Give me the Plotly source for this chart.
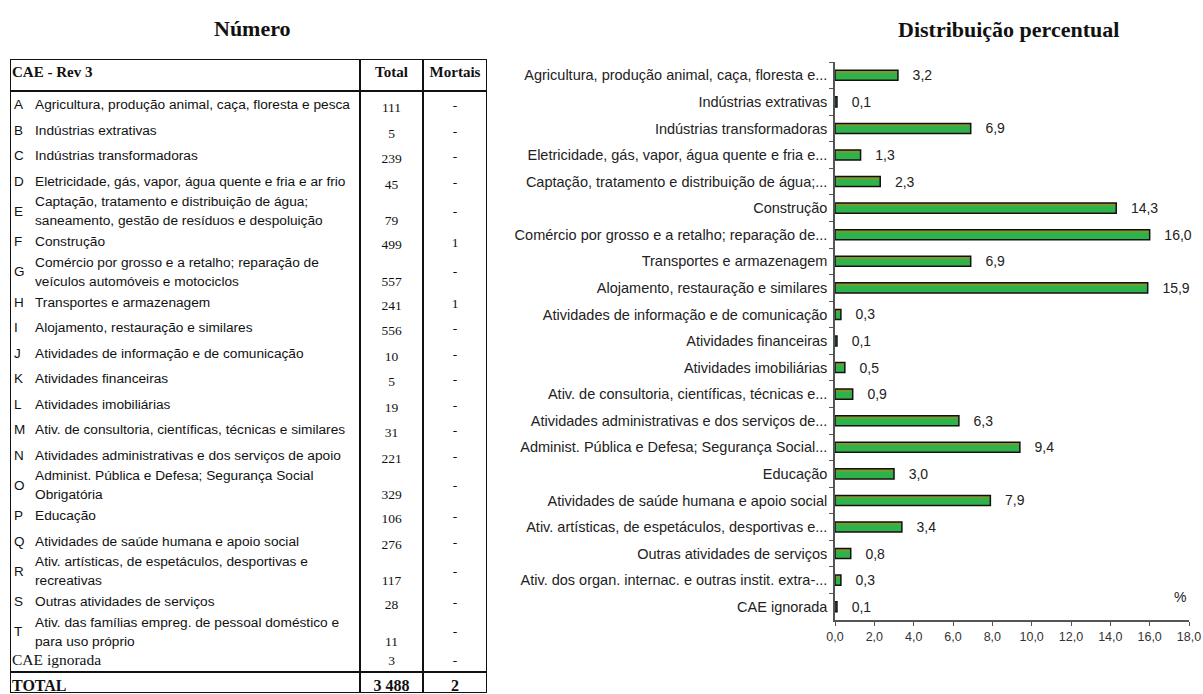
import plotly.graph_objects as go

# ---- data ----
codes = ["A", "B", "C", "D", "E", "F", "G", "H", "I", "J", "K", "L", "M",
         "N", "O", "P", "Q", "R", "S", "T", ""]
table_labels = [
    "Agricultura, produção animal, caça, floresta e pesca",
    "Indústrias extrativas",
    "Indústrias transformadoras",
    "Eletricidade, gás, vapor, água quente e fria e ar frio",
    "Captação, tratamento e distribuição de água;<br>saneamento, gestão de resíduos e despoluição",
    "Construção",
    "Comércio por grosso e a retalho; reparação de<br>veículos automóveis e motociclos",
    "Transportes e armazenagem",
    "Alojamento, restauração e similares",
    "Atividades de informação e de comunicação",
    "Atividades financeiras",
    "Atividades imobiliárias",
    "Ativ. de consultoria, científicas, técnicas e similares",
    "Atividades administrativas e dos serviços de apoio",
    "Administ. Pública e Defesa; Segurança Social<br>Obrigatória",
    "Educação",
    "Atividades de saúde humana e apoio social",
    "Ativ. artísticas, de espetáculos, desportivas e<br>recreativas",
    "Outras atividades de serviços",
    "Ativ. das famílias empreg. de pessoal doméstico e<br>para uso próprio",
    "CAE ignorada",
]
totals = [111, 5, 239, 45, 79, 499, 557, 241, 556, 10, 5, 19, 31, 221, 329,
          106, 276, 117, 28, 11, 3]
mortais = [0, 0, 0, 0, 0, 1, 0, 1, 0, 0, 0, 0, 0, 0, 0, 0, 0, 0, 0, 0, 0]
total_all = 3488
mortais_all = 2

bar_labels = [
    "Agricultura, produção animal, caça, floresta e...",
    "Indústrias extrativas",
    "Indústrias transformadoras",
    "Eletricidade, gás, vapor, água quente e fria e...",
    "Captação, tratamento e distribuição de água;...",
    "Construção",
    "Comércio por grosso e a retalho; reparação de...",
    "Transportes e armazenagem",
    "Alojamento, restauração e similares",
    "Atividades de informação e de comunicação",
    "Atividades financeiras",
    "Atividades imobiliárias",
    "Ativ. de consultoria, científicas, técnicas e...",
    "Atividades administrativas e dos serviços de...",
    "Administ. Pública e Defesa; Segurança Social...",
    "Educação",
    "Atividades de saúde humana e apoio social",
    "Ativ. artísticas, de espetáculos, desportivas e...",
    "Outras atividades de serviços",
    "Ativ. dos organ. internac. e outras instit. extra-...",
    "CAE ignorada",
]
pct = [3.2, 0.1, 6.9, 1.3, 2.3, 14.3, 16.0, 6.9, 15.9, 0.3, 0.1, 0.5, 0.9,
       6.3, 9.4, 3.0, 7.9, 3.4, 0.8, 0.3, 0.1]
x_ticks = [0, 2, 4, 6, 8, 10, 12, 14, 16, 18]

W, H = 1203, 694
SANS = "Liberation Sans, Arial, sans-serif"
SERIF = "Liberation Serif, Times New Roman, serif"

# ---- table layout (units = pixels inside the table box) ----
T_LEFT, T_RIGHT, T_TOP, T_BOT = 10, 487, 59, 693
tw, th = T_RIGHT - T_LEFT, T_BOT - T_TOP
col1, col2 = 350, 413
head_bot, total_line = 32, 613

lab_x, lab_y, lab_t = [], [], []
code_x, code_y, code_t = [], [], []
num_y, dash_y = [], []
ign = {}
y0 = 34
for code, lab in zip(codes, table_labels):
    lines = lab.split("<br>")
    if code == "":
        c = y0 + 11
        ign = dict(y=c, text=lab)
        num_y.append(c)
        dash_y.append(c)
        y0 += 20
        continue
    if len(lines) == 1:
        c = y0 + 12.75
        lab_x.append(25); lab_y.append(c); lab_t.append(lab)
        code_y.append(c)
        num_y.append(c + 3)
        dash_y.append(c + 1)
        y0 += 25.5
    else:
        for k, ln in enumerate(lines):
            lab_x.append(25); lab_y.append(y0 + 8 + 19 * k); lab_t.append(ln)
        code_y.append(y0 + 17.5)
        num_y.append(y0 + 27)
        dash_y.append(y0 + 17.5)
        y0 += 35
    code_x.append(4); code_t.append(code)

fig = go.Figure()

# bars: olive base, bright green band, then black outline with value labels
bw = 0.38
common = dict(x=pct, y=bar_labels, orientation="h", hoverinfo="skip",
              xaxis="x", yaxis="y")
fig.add_trace(go.Bar(width=bw, offset=-bw / 2,
                     marker=dict(color="#7a9a30", line=dict(width=0)), **common))
fig.add_trace(go.Bar(width=0.24, offset=-0.08,
                     marker=dict(color="#2cb34c", line=dict(width=0)), **common))
fig.add_trace(go.Bar(
    width=bw, offset=-bw / 2,
    marker=dict(color="rgba(0,0,0,0)", line=dict(color="#111111", width=1.5)),
    texttemplate="\u00a0\u00a0\u00a0%{x:.1f}", textposition="outside", constraintext="none",
    textfont=dict(family=SANS, size=14, color="#222222"),
    cliponaxis=False, **common,
))

# table text
tx = dict(xaxis="x2", yaxis="y2", mode="text", hoverinfo="skip", cliponaxis=False)
fig.add_trace(go.Scatter(x=code_x, y=code_y, text=code_t, textposition="middle right",
                         textfont=dict(family=SANS, size=13.5, color="#111"), **tx))
fig.add_trace(go.Scatter(x=lab_x, y=lab_y, text=lab_t, textposition="middle right",
                         textfont=dict(family=SANS, size=13.7, color="#111"), **tx))
fig.add_trace(go.Scatter(x=[2], y=[ign["y"]], text=[ign["text"]], textposition="middle right",
                         textfont=dict(family=SERIF, size=15.5, color="#111"), **tx))
fig.add_trace(go.Scatter(x=[381.5] * len(totals), y=num_y,
                         text=[f"{v:,}".replace(",", " ") for v in totals],
                         textposition="middle center",
                         textfont=dict(family=SERIF, size=13.5, color="#111"), **tx))
fig.add_trace(go.Scatter(x=[445] * len(mortais), y=dash_y,
                         text=[str(v) if v else "-" for v in mortais],
                         textposition="middle center",
                         textfont=dict(family=SERIF, size=13.5, color="#111"), **tx))
# header and total rows
fig.add_trace(go.Scatter(x=[2, 381.5, 445], y=[14, 14, 14],
                         text=["CAE - Rev 3", "Total", "Mortais"],
                         textposition=["middle right", "middle center", "middle center"],
                         textfont=dict(family=SERIF, size=15, color="#111", weight="bold"), **tx))
fig.add_trace(go.Scatter(x=[2, 381.5, 445], y=[628, 628, 628],
                         text=["TOTAL", f"{total_all:,}".replace(",", " "), str(mortais_all)],
                         textposition=["middle right", "middle center", "middle center"],
                         textfont=dict(family=SERIF, size=16, color="#111", weight="bold"), **tx))

ln = dict(color="#111111", width=2)
shapes = [
    dict(type="rect", xref="x2", yref="y2", x0=0, x1=tw, y0=0, y1=th, line=ln),
    dict(type="line", xref="x2", yref="y2", x0=0, x1=tw, y0=head_bot, y1=head_bot, line=ln),
    dict(type="line", xref="x2", yref="y2", x0=0, x1=tw, y0=total_line, y1=total_line, line=ln),
    dict(type="line", xref="x2", yref="y2", x0=col1, x1=col1, y0=0, y1=th, line=ln),
    dict(type="line", xref="x2", yref="y2", x0=col2, x1=col2, y0=0, y1=th, line=ln),
]

ann = dict(xref="paper", yref="paper", showarrow=False, xanchor="center", yanchor="middle")
fig.update_layout(
    width=W, height=H, margin=dict(l=0, r=0, t=0, b=0, pad=0),
    paper_bgcolor="white", plot_bgcolor="white", barmode="overlay",
    separators=", ", showlegend=False, shapes=shapes,
    font=dict(family=SANS, color="#222"),
    xaxis=dict(domain=[835 / W, 1189 / W], range=[0, 18], tickvals=x_ticks,
               tickformat=".1f", showgrid=False, zeroline=False, automargin=False,
               showline=True, linecolor="#555", linewidth=1.5,
               ticks="outside", ticklen=4, tickcolor="#555",
               tickfont=dict(family=SANS, size=12.5, color="#333")),
    yaxis=dict(domain=[1 - 620 / H, 1 - 62 / H], autorange="reversed", automargin=False,
               showgrid=False, showline=True, linecolor="#555", linewidth=1.5,
               ticks="outside", ticklen=4, tickcolor="#555", tickson="boundaries",
               ticklabelstandoff=3,
               tickfont=dict(family=SANS, size=14.5, color="#222")),
    xaxis2=dict(domain=[T_LEFT / W, T_RIGHT / W], range=[0, tw], visible=False,
                automargin=False),
    yaxis2=dict(domain=[1 - T_BOT / H, 1 - T_TOP / H], range=[th, 0], visible=False,
                automargin=False),
    annotations=[
        dict(text="<b>Número</b>", x=252 / W, y=1 - 28 / H,
             font=dict(family=SERIF, size=22, color="#111"), **ann),
        dict(text="<b>Distribuição percentual</b>", x=1008 / W, y=1 - 30 / H,
             font=dict(family=SERIF, size=22, color="#111"), **ann),
        dict(text="%", x=1180 / W, y=1 - 597 / H,
             font=dict(family=SANS, size=14, color="#222"), **ann),
    ],
)

fig.write_html("out.html", config={"displayModeBar": False},
               post_script="document.body.style.margin='0';")
